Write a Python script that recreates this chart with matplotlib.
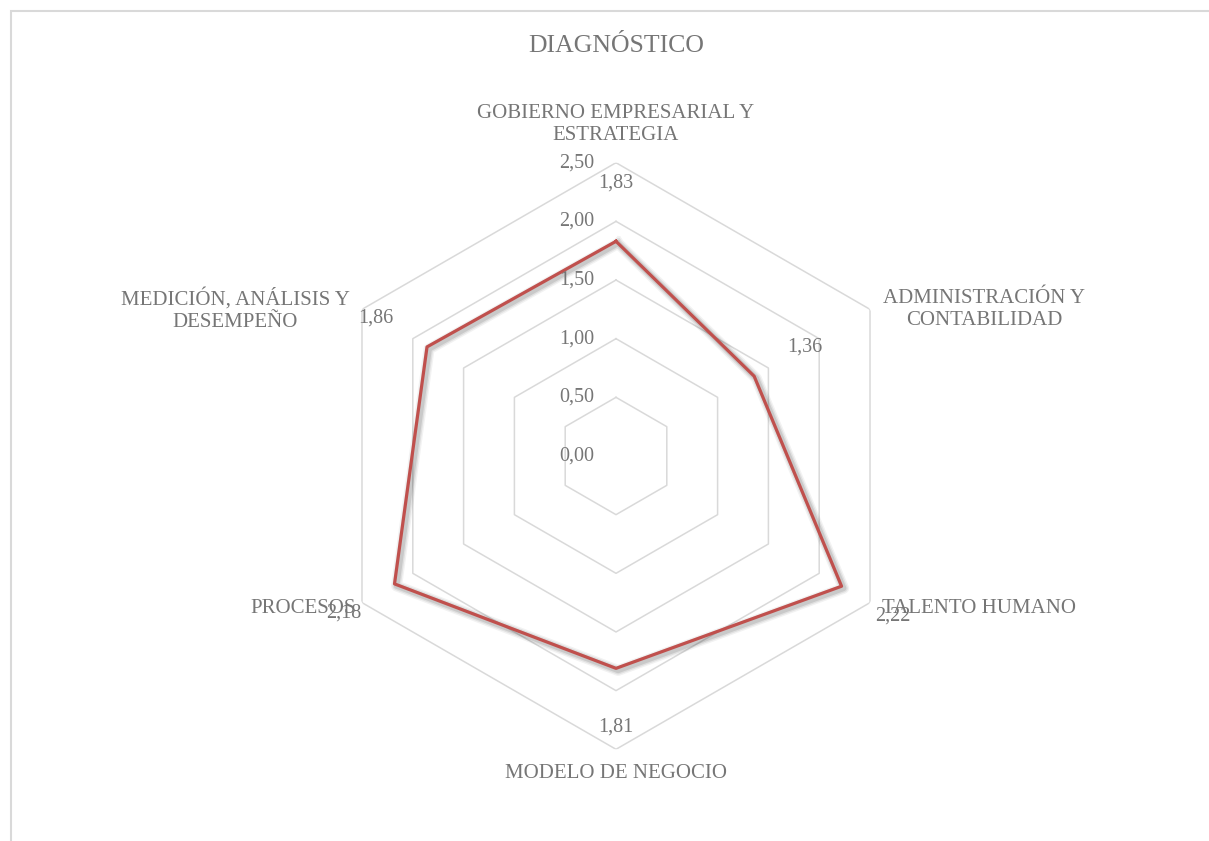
import numpy as np
import matplotlib.pyplot as plt
import matplotlib.patheffects as pe
from matplotlib.patches import Rectangle

categories = ["GOBIERNO EMPRESARIAL Y\nESTRATEGIA", "ADMINISTRACIÓN Y\nCONTABILIDAD",
              "TALENTO HUMANO", "MODELO DE NEGOCIO", "PROCESOS",
              "MEDICIÓN, ANÁLISIS Y\nDESEMPEÑO"]
values = [1.83, 1.36, 2.22, 1.81, 2.18, 1.86]
rings = [0.5, 1.0, 1.5, 2.0, 2.5]
tick_values = [0.0, 0.5, 1.0, 1.5, 2.0, 2.5]

GREY = "#767676"
plt.rcParams['font.family'] = ['Liberation Serif', 'DejaVu Serif']

W, H = 1209, 841
fig = plt.figure(figsize=(W / 100, H / 100), dpi=100)

# chart border (top/left only visible)
fig.patches.append(Rectangle((10.5 / W, -0.1), 1.2, (H - 11) / H + 0.1,
                             transform=fig.transFigure, fill=False,
                             ec="#d9d9d9", lw=1.5))

cx, cy, R = 616, 456, 293.3
ax = fig.add_axes([(cx - R) / W, (H - cy - R) / H, 2 * R / W, 2 * R / H],
                  projection='polar')
ax.set_theta_offset(np.pi / 2)
ax.set_theta_direction(-1)
ax.set_ylim(0, 2.5)
ax.axis('off')

n = len(categories)
theta = np.arange(n) * 2 * np.pi / n
theta_c = np.append(theta, theta[0])

for r in rings:
    ax.plot(theta_c, [r] * (n + 1), color="#d9d9d9", lw=1.1, zorder=1)

# soft shadow like excel
shadow = [pe.SimpleLineShadow(offset=(1.5, -1.5), shadow_color='k',
                              alpha=a, linewidth=w)
          for a, w in [(0.05, 8), (0.07, 6), (0.1, 4)]]
vals_c = np.append(values, values[0])
ax.plot(theta_c, vals_c, color="#C0504D", lw=2.3, zorder=3,
        path_effects=shadow + [pe.Normal()])

for t in tick_values:
    ax.annotate(f"{t:.2f}".replace('.', ','), (0, t), xytext=(-22, 0),
                textcoords='offset pixels', ha='right', va='center',
                fontsize=14.5, color=GREY)

for th, v in zip(theta, values):
    ax.text(th, v + 0.5, f"{v:.2f}".replace('.', ','), ha='center', va='center',
            fontsize=14.5, color=GREY, zorder=4)

offsets = [(0, 38, 'center', 'center'), (13, 0, 'left', 'center'),
           (12, -6, 'left', 'center'), (0, -24, 'center', 'center'),
           (-6, -6, 'right', 'center'), (-12, 0, 'right', 'center')]
for th, lab, (dx, dy, ha, va) in zip(theta, categories, offsets):
    ax.annotate(lab, (th, 2.5), xytext=(dx, dy), textcoords='offset pixels',
                ha=ha, va=va, multialignment='center', fontsize=15,
                color=GREY, linespacing=1.25, annotation_clip=False)

fig.text(cx / W, 1 - 46 / H, "DIAGNÓSTICO", ha='center', va='center',
         fontsize=18.5, color=GREY)

fig.savefig("out.png", dpi=100)
